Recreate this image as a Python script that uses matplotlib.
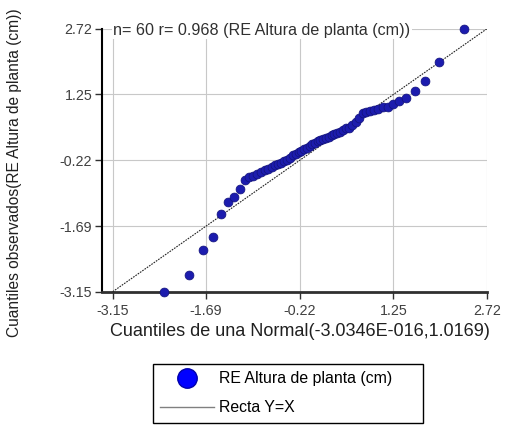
import matplotlib
matplotlib.use('Agg')
import matplotlib.pyplot as plt
from matplotlib.lines import Line2D

# cuantiles teoricos de la Normal (eje x) y cuantiles observados (eje y)
qTeo = [-2.352, -1.960, -1.740, -1.580, -1.452, -1.342, -1.248, -1.162, -1.084, -1.012,
        -0.946, -0.882, -0.822, -0.765, -0.709, -0.656, -0.605, -0.555, -0.506, -0.460,
        -0.413, -0.367, -0.322, -0.279, -0.235, -0.192, -0.149, -0.106, -0.063, -0.021,
        0.021, 0.063, 0.106, 0.149, 0.192, 0.235, 0.279, 0.322, 0.367, 0.413,
        0.460, 0.506, 0.555, 0.605, 0.656, 0.709, 0.765, 0.822, 0.882, 0.946,
        1.012, 1.084, 1.162, 1.248, 1.342, 1.452, 1.580, 1.740, 1.960, 2.352]
qObs = [-3.15, -2.77, -2.21, -1.93, -1.41, -1.16, -1.04, -0.87, -0.66, -0.60,
        -0.56, -0.52, -0.49, -0.44, -0.41, -0.38, -0.33, -0.30, -0.27, -0.24,
        -0.21, -0.16, -0.11, -0.07, -0.04, -0.01, 0.03, 0.06, 0.10, 0.14,
        0.17, 0.20, 0.24, 0.26, 0.28, 0.31, 0.34, 0.36, 0.38, 0.42,
        0.46, 0.49, 0.51, 0.57, 0.64, 0.72, 0.84, 0.86, 0.88, 0.90,
        0.93, 0.96, 0.98, 1.03, 1.10, 1.17, 1.32, 1.54, 1.98, 2.72]
ticks = [-3.15, -1.69, -0.22, 1.25, 2.72]
tickLabels = ['-3.15', '-1.69', '-0.22', '1.25', '2.72']
n = 60
r = 0.968
varName = 'RE Altura de planta (cm)'

plt.rcParams['font.family'] = ['Liberation Sans', 'DejaVu Sans']

W, H = 507, 428
fig = plt.figure(figsize=(W / 100, H / 100), dpi=100)

ax = fig.add_axes([102 / W, 1 - 291.7 / H, 385.3 / W, 263.2 / H])

# recta Y=X
ax.plot([ticks[0], ticks[-1]], [ticks[0], ticks[-1]], ls=(0, (1.5, 1.0)),
        color='#222222', lw=0.8, zorder=3)
ax.plot(qTeo, qObs, 'o', ms=6.4, color='#1c1cae', mec='#12127a', mew=0.5,
        clip_on=False, zorder=4)

ax.set_xlim(ticks[0] - 0.168, ticks[-1])
ax.set_ylim(ticks[0], ticks[-1])
ax.set_xticks(ticks)
ax.set_xticklabels(tickLabels)
ax.set_yticks(ticks)
ax.set_yticklabels(tickLabels)
ax.grid(True, color='#c8c8c8', lw=0.8, zorder=1)
ax.set_axisbelow(True)

for s in ['top', 'right']:
    ax.spines[s].set_visible(False)
ax.spines['left'].set_linewidth(1.5)
ax.spines['left'].set_color('black')
ax.spines['bottom'].set_linewidth(2)
ax.spines['bottom'].set_color('#303030')
ax.tick_params(direction='out', length=5, width=1, color='#303030',
               labelcolor='#404040', labelsize=10.3, pad=2)
ax.tick_params(axis='x', pad=4)

ax.text(11 / 385.3, 0.993, f'n= {n} r= {r} ({varName})', transform=ax.transAxes,
        fontsize=11.6, color='#303030', va='center', ha='left', zorder=5,
        bbox=dict(facecolor='white', edgecolor='none', pad=1))

fig.text(300 / W, 1 - 331 / H, 'Cuantiles de una Normal(-3.0346E-016,1.0169)',
         fontsize=13, color='#202020', ha='center', va='center')
fig.text(15 / W, 1 - 337 / H, f'Cuantiles observados({varName})',
         fontsize=11.2, color='#202020', rotation=90, ha='center', va='bottom')

handles = [Line2D([], [], marker='o', ls='', color='#0000ff', mec='#0000aa', ms=14),
           Line2D([], [], color='#808080', lw=1)]
fig.legend(handles, [varName, 'Recta Y=X'], loc='upper left',
           bbox_to_anchor=(153 / W, 1 - 426 / H, 270 / W, 62 / H), mode='expand',
           fontsize=11.4, frameon=True, fancybox=False, edgecolor='black',
           framealpha=1, handlelength=3.4, handletextpad=0.3, labelspacing=0.9,
           borderpad=0.45, borderaxespad=0)

fig.savefig('out.png', dpi=100)
